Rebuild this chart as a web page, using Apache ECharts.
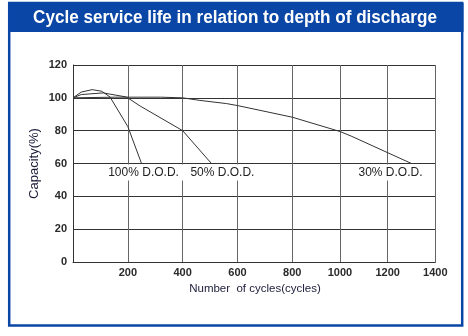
<!DOCTYPE html>
<html><head><meta charset="utf-8">
<script src="https://cdn.jsdelivr.net/npm/echarts@6/dist/echarts.min.js"></script>
<style>html,body{margin:0;padding:0;background:#fff}#c{width:468px;height:336px}</style>
</head><body><div id="c"></div>
<script>
const titleText = 'Cycle service life in relation to depth of discharge';
const xName = 'Number  of cycles(cycles)';
const yName = 'Capacity(%)';
const yTicks = [0, 20, 40, 60, 80, 100, 120];
const xTicksLeft = [0, 200, 400, 600, 800];
const xTicksRight = [800, 1000, 1200, 1400];
const seriesNames = ['100% D.O.D.', '50% D.O.D.', '30% D.O.D.'];
const dod100 = [[0,100],[30,103.5],[70,105],[105,104],[135,100.5],[200,82.5],[250,60]];
const dod50 = [[0,100],[30,102],[110,103],[195,100.5],[245,95],[400,80],[505,60]];
const dod30 = [[0,100],[150,100.4],[320,100.4],[400,100],[460,98.5],[560,96.5],[600,95.3],[800,88.2],[1000,79.5],[1050,76.5],[1300,60]];

const chart = echarts.init(document.getElementById('c'), null, {renderer:'canvas'});
const FONT = 'Liberation Sans, Arial, sans-serif';
const lineColor = '#333';
const labelOffsets = [[2,0],[11,0],[-21,0]];
function endMark(data, idx) {
  const p = data[data.length - 1];
  return {
    symbol: 'circle', symbolSize: 0, silent: true, animation: false,
    data: [{coord: p, value: seriesNames[idx],
      label: {show: true, position: 'bottom', distance: 1, offset: labelOffsets[idx],
        formatter: seriesNames[idx], fontFamily: FONT, fontSize: 12, color: '#222',
        backgroundColor: '#fff', padding: [2, 5]}}]
  };
}
const split = 800;
const d30L = dod30.filter(p => p[0] <= split);
const d30R = dod30.filter(p => p[0] >= split);

const gridTop = 65, gridH = 197;
const common = {type:'line', symbol:'none', smooth:false, lineStyle:{color:lineColor, width:1}, z:3, silent:true};
const axisLabelX = {fontFamily: FONT, fontSize: 11, fontWeight: 'bold', color: '#2a2a2a', margin: 5, showMinLabel: false,
  formatter: v => String(v)};

chart.setOption({
  animation: false,
  graphic: [
    {type:'rect', shape:{x:8, y:3, width:455.5, height:29}, style:{fill:'#0a46a6'}, z:-1},
    {type:'rect', shape:{x:9.2, y:3, width:453, height:322.5}, style:{fill:'none', stroke:'#0a46a6', lineWidth:2.5}, z:-1},
    {type:'text', x: 235, y: 18, scaleX: 0.95, style:{text: titleText, fontFamily: FONT, fontSize: 18, fontWeight: 'bold',
      fill:'#fff', textAlign:'center', textVerticalAlign:'middle'}},
    {type:'text', x: 255, y: 289, style:{text: xName, fontFamily: FONT, fontSize: 11.5, fill:'#1c1c3a',
      textAlign:'center', textVerticalAlign:'middle'}}
  ],
  grid: [
    {left: 73, top: gridTop, width: 219.3, height: gridH},
    {left: 292.3, top: gridTop, width: 143, height: gridH}
  ],
  xAxis: [
    {gridIndex:0, type:'value', min: xTicksLeft[0], max: xTicksLeft[xTicksLeft.length-1], interval: 200,
      axisLine:{show:true, onZero:false, lineStyle:{color:'#333', width:1}}, axisTick:{show:false},
      splitLine:{show:true, lineStyle:{color:'#666', width:1}}, axisLabel: axisLabelX},
    {gridIndex:1, type:'value', min: xTicksRight[0], max: xTicksRight[xTicksRight.length-1], interval: 200,
      axisLine:{show:true, onZero:false, lineStyle:{color:'#333', width:1}}, axisTick:{show:false},
      splitLine:{show:true, lineStyle:{color:'#666', width:1}}, axisLabel: axisLabelX}
  ],
  yAxis: [
    {gridIndex:0, type:'value', min: yTicks[0], max: yTicks[yTicks.length-1], interval: 20,
      name: yName, nameLocation:'middle', nameGap: 32, nameRotate: 90,
      nameTextStyle:{fontFamily: FONT, fontSize: 13, color:'#1c1c3a'},
      axisLine:{show:true, lineStyle:{color:'#333', width:1}}, axisTick:{show:false},
      splitLine:{show:true, lineStyle:{color:'#333', width:1}},
      axisLabel:{fontFamily: FONT, fontSize: 11, fontWeight:'bold', color:'#2a2a2a', margin: 6}},
    {gridIndex:1, type:'value', min: yTicks[0], max: yTicks[yTicks.length-1], interval: 20,
      axisLine:{show:false}, axisTick:{show:false}, axisLabel:{show:false},
      splitLine:{show:true, lineStyle:{color:'#333', width:1}}}
  ],
  series: [
    Object.assign({}, common, {name: seriesNames[0], xAxisIndex:0, yAxisIndex:0, data: dod100, markPoint: endMark(dod100, 0)}),
    Object.assign({}, common, {name: seriesNames[1], xAxisIndex:0, yAxisIndex:0, data: dod50, markPoint: endMark(dod50, 1)}),
    Object.assign({}, common, {name: seriesNames[2], xAxisIndex:0, yAxisIndex:0, data: d30L}),
    Object.assign({}, common, {name: seriesNames[2], xAxisIndex:1, yAxisIndex:1, data: d30R, markPoint: endMark(d30R, 2)})
  ]
});
</script></body></html>
